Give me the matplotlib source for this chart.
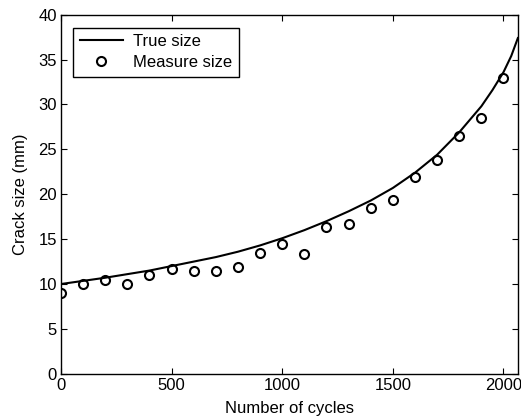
import matplotlib
matplotlib.use('Agg')
import matplotlib.pyplot as plt

plt.rcParams['font.family'] = ['Liberation Sans', 'DejaVu Sans']
plt.rcParams['font.size'] = 12

# true crack size curve
true_cycles = [0, 100, 200, 300, 400, 500, 600, 700, 800, 900, 1000, 1100,
               1200, 1300, 1400, 1500, 1600, 1700, 1800, 1900, 1950, 2000,
               2035, 2065]
true_size = [10.0, 10.35, 10.7, 11.1, 11.5, 12.0, 12.5, 13.0, 13.6, 14.3, 15.1,
             16.0, 17.0, 18.1, 19.3, 20.7, 22.4, 24.4, 26.9, 29.8, 31.6, 33.6,
             35.4, 37.4]

# measured crack size
meas_cycles = [0, 100, 200, 300, 400, 500, 600, 700, 800, 900, 1000, 1100,
               1200, 1300, 1400, 1500, 1600, 1700, 1800, 1900, 2000]
meas_size = [9.0, 10.0, 10.4, 10.05, 11.0, 11.7, 11.4, 11.5, 11.85, 13.5, 14.5,
             13.3, 16.4, 16.7, 18.45, 19.4, 21.9, 23.85, 26.5, 28.5, 32.9]

fig = plt.figure(figsize=(5.21, 4.2), dpi=100)
ax = fig.add_axes([0.117, 0.11, 0.877, 0.855])

ax.plot(true_cycles, true_size, color='black', linewidth=1.5, label='True size')
ax.plot(meas_cycles, meas_size, linestyle='none', marker='o', markersize=6.5,
        markerfacecolor='none', markeredgecolor='black', markeredgewidth=1.5,
        label='Measure size')

ax.set_xlim(0, 2065)
ax.set_ylim(0, 40)
ax.set_xticks([0, 500, 1000, 1500, 2000])
ax.set_yticks(range(0, 41, 5))
ax.tick_params(direction='in', top=True, right=True, length=4, width=0.8,
               pad=3, labelsize=12)
for s in ax.spines.values():
    s.set_linewidth(1.0)

ax.set_xlabel('Number of cycles', labelpad=6)
ax.set_ylabel('Crack size (mm)', labelpad=7)

leg = ax.legend(loc='upper left', bbox_to_anchor=(0.026, 0.964), fancybox=False,
                framealpha=1, edgecolor='black', handlelength=2.6,
                borderpad=0.4, labelspacing=0.35, handletextpad=0.6,
                borderaxespad=0, fontsize=12)
leg.get_frame().set_linewidth(1.0)

fig.savefig('out.png', dpi=100)
